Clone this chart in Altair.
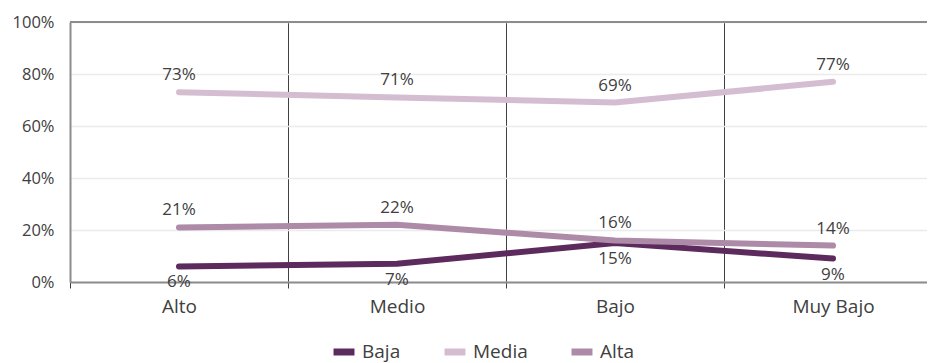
import altair as alt
import pandas as pd

categories = ["Alto", "Medio", "Bajo", "Muy Bajo"]
series = ["Baja", "Media", "Alta"]
baja = [0.06, 0.07, 0.15, 0.09]
media = [0.73, 0.71, 0.69, 0.77]
alta = [0.21, 0.22, 0.16, 0.14]
colors = ["#5c2a5c", "#d5bdd1", "#ad8aa7"]

rows = []
for s, vals in zip(series, [baja, media, alta]):
    for c, v in zip(categories, vals):
        rows.append({"cat": c, "serie": s, "val": v})
df = pd.DataFrame(rows)

FONT = "Open Sans"

x = alt.X("cat:N", sort=categories, title=None,
          scale=alt.Scale(range=[0, 872], paddingInner=0, paddingOuter=0),
          axis=alt.Axis(labelAngle=0, labelFontSize=19, labelColor="#404040", labelFont=FONT,
                        labelPadding=9, tickBand="extent", grid=True, gridColor="#404040",
                        gridWidth=1, ticks=True, tickColor="#404040", tickSize=6,
                        domainColor="#8c8c8c", domainWidth=2))
y = alt.Y("val:Q", title=None,
          scale=alt.Scale(domain=[0, 1], nice=False),
          axis=alt.Axis(values=[0, 0.2, 0.4, 0.6, 0.8, 1.0], format=".0%", labelFontSize=16.5,
                        labelColor="#404040", labelFont=FONT, labelPadding=16, ticks=False,
                        gridColor="#ebebeb", gridWidth=1.5, domainColor="#8c8c8c", domainWidth=2))

color = alt.Color("serie:N", sort=series,
                  scale=alt.Scale(domain=series, range=colors),
                  legend=alt.Legend(title=None, orient="none", direction="horizontal",
                                    legendX=260, legendY=316, symbolType="stroke",
                                    symbolStrokeWidth=7, symbolSize=440, labelFontSize=19,
                                    labelFont=FONT, labelColor="#404040", columnPadding=29))

base = alt.Chart(df)

lines = base.mark_line(strokeWidth=6, strokeCap="round").encode(
    x=x, y=y, color=color)

top_rule = alt.Chart(pd.DataFrame({"v": [1.0]})).mark_rule(color="#8c8c8c", strokeWidth=2).encode(
    y=alt.Y("v:Q", scale=alt.Scale(domain=[0, 1])))

txt_above = base.transform_filter(alt.datum.serie != "Baja").mark_text(
    dy=-17, fontSize=17, font=FONT, color="#404040").encode(
    x=alt.X("cat:N", sort=categories), y="val:Q", text=alt.Text("val:Q", format=".0%"))
txt_below = base.transform_filter(alt.datum.serie == "Baja").mark_text(
    dy=16, fontSize=17, font=FONT, color="#404040").encode(
    x=alt.X("cat:N", sort=categories), y="val:Q", text=alt.Text("val:Q", format=".0%"))

chart = alt.layer(lines, top_rule, txt_above, txt_below).properties(
    width=857, height=260,
    autosize=alt.AutoSizeParams(type="none"),
    padding={"left": 62, "top": 14, "right": 0, "bottom": 100},
).configure_view(stroke=None).configure_axis(labelFont=FONT)

chart.save("out.html", embed_options={"renderer": "svg", "actions": False})
